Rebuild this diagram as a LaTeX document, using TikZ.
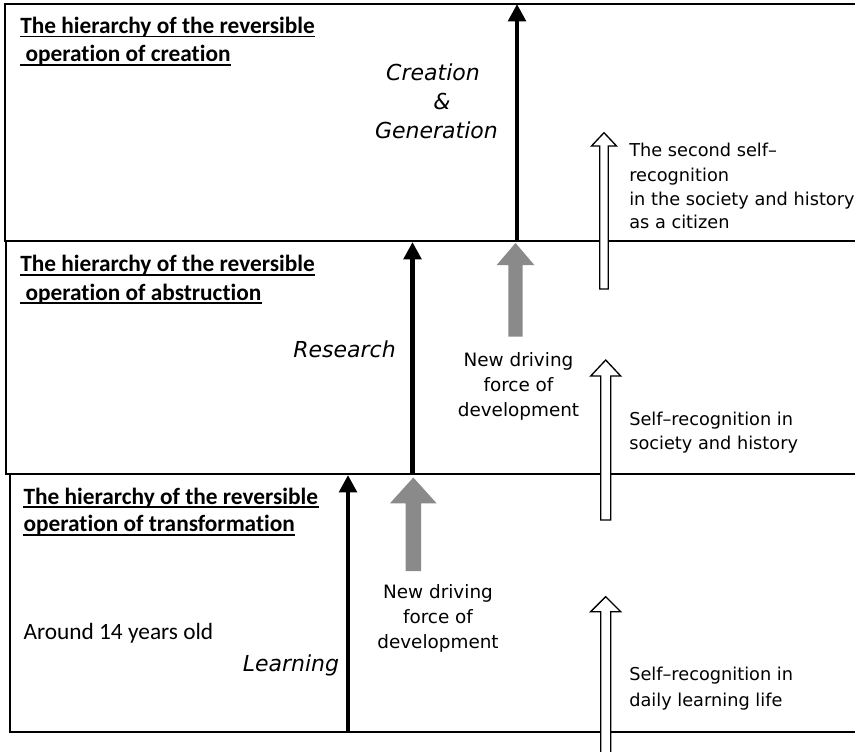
\documentclass[tikz,border=0pt]{standalone}
\usepackage{fontspec}
\usetikzlibrary{arrows.meta}
\newfontfamily\headfont{Carlito}[Ligatures=NoCommon]
\newfontfamily\gothfont{DejaVu Sans}
\definecolor{arrowgray}{RGB}{138,138,138}
\tikzset{
  frame/.style={line width=1.5pt},
  mainarrow/.style={line width=3.5pt,-{Triangle[width=13pt,length=13pt]}},
  grayblock/.style={fill=arrowgray,draw=none},
  whiteblock/.style={fill=white,draw=black,line width=1pt,line join=miter},
  heading/.style={font=\headfont\bfseries\fontsize{17.5}{20}\selectfont,inner sep=0pt,anchor=base west},
  plaintext/.style={font=\headfont\fontsize{17.5}{20}\selectfont,inner sep=0pt,anchor=base west},
  italab/.style={font=\gothfont\itshape\fontsize{16.5}{20}\selectfont,inner sep=0pt,anchor=base},
  gothleft/.style={font=\gothfont\fontsize{13.3}{18}\selectfont,inner sep=0pt,anchor=base west},
  gothmid/.style={font=\gothfont\fontsize{13.8}{18}\selectfont,inner sep=0pt,anchor=base},
  uline/.style={line width=1.1pt},
}
% #1 style, #2 x, #3 tip y, #4 head base y, #5 bottom y, #6 head half width, #7 shaft half width
\newcommand\blockup[7]{%
  \draw[#1] (#2,#3) -- ({#2+#6},#4) -- ({#2+#7},#4) -- ({#2+#7},#5) -- ({#2-#7},#5)
    -- ({#2-#7},#4) -- ({#2-#6},#4) -- cycle;}
\begin{document}
\begin{tikzpicture}[x=0.75pt,y=-0.75pt]
\useasboundingbox (0,0) rectangle (855,751);
% levels
\draw[frame] (5,4) rectangle (880,241);
\draw[frame] (6,241) rectangle (880,474);
\draw[frame] (9.5,474) rectangle (880,732);
% gray block arrows (new driving force)
\blockup{grayblock}{515.5}{243}{265}{336.7}{18.8}{7.2}
\blockup{grayblock}{413.3}{477.5}{503.3}{571}{23.3}{7.7}
% white block arrows (self-recognition)
\blockup{whiteblock}{604}{132.7}{146}{289}{12.5}{4.2}
\blockup{whiteblock}{605.7}{360}{376}{520}{15}{5}
\blockup{whiteblock}{605.7}{596.7}{611.7}{790}{15}{5}
% main black arrows
\coordinate (cstart) at (517,241);
\coordinate (cend) at (517,4);
\coordinate (rstart) at (412.5,474);
\coordinate (rend) at (412.5,242);
\coordinate (lstart) at (348,732);
\coordinate (lend) at (348,475);
\draw[mainarrow] (cstart) -- (cend);
\draw[mainarrow] (rstart) -- (rend);
\draw[mainarrow] (lstart) -- (lend);
% headings
\node[heading] (h1a) at (20,33.3) {The hierarchy of the reversible};
\node[heading] (h1b) at (20,61.7) {\ operation of creation};
\node[heading] (h2a) at (20,271.7) {The hierarchy of the reversible};
\node[heading] (h2b) at (20,300) {\ operation of abstruction};
\node[heading] (h3a) at (23.3,504) {The hierarchy of the reversible};
\node[heading] (h3b) at (23.3,531.7) {operation of transformation};
\foreach \n in {h1a,h1b,h2a,h2b,h3a,h3b}
  \draw[uline] ([yshift=-2.4pt]\n.base west) -- ([yshift=-2.4pt]\n.base east);
\node[plaintext] (age) at (23.3,639.3) {Around 14 years old};
% italic labels
\node[italab] (cr1) at (433,80) {Creation};
\node[italab] (cr2) at (442,109) {\&};
\node[italab] (cr3) at (436.5,138) {Generation};
\node[italab] (res) at (344.5,357.3) {Research};
\node[italab] (lea) at (291,671.7) {Learning};
% new driving force labels
\node[gothmid] (nd1a) at (518.5,366) {New driving};
\node[gothmid] (nd1b) at (518.5,391.7) {force of};
\node[gothmid] (nd1c) at (518.5,416.7) {development};
\node[gothmid] (nd2a) at (438,598.3) {New driving};
\node[gothmid] (nd2b) at (438,623.3) {force of};
\node[gothmid] (nd2c) at (438,648.3) {development};
% self-recognition labels
\node[gothleft] (sr1a) at (629,156.7) {The second self–};
\node[gothleft] (sr1b) at (629,181.7) {recognition};
\node[gothleft] (sr1c) at (629,205) {in the society and history};
\node[gothleft] (sr1d) at (629,228.3) {as a citizen};
\node[gothleft] (sr2a) at (629,425) {Self–recognition in};
\node[gothleft] (sr2b) at (629,449.3) {society and history};
\node[gothleft] (sr3a) at (629,680.7) {Self–recognition in};
\node[gothleft] (sr3b) at (629,706.7) {daily learning life};
\end{tikzpicture}
\end{document}
